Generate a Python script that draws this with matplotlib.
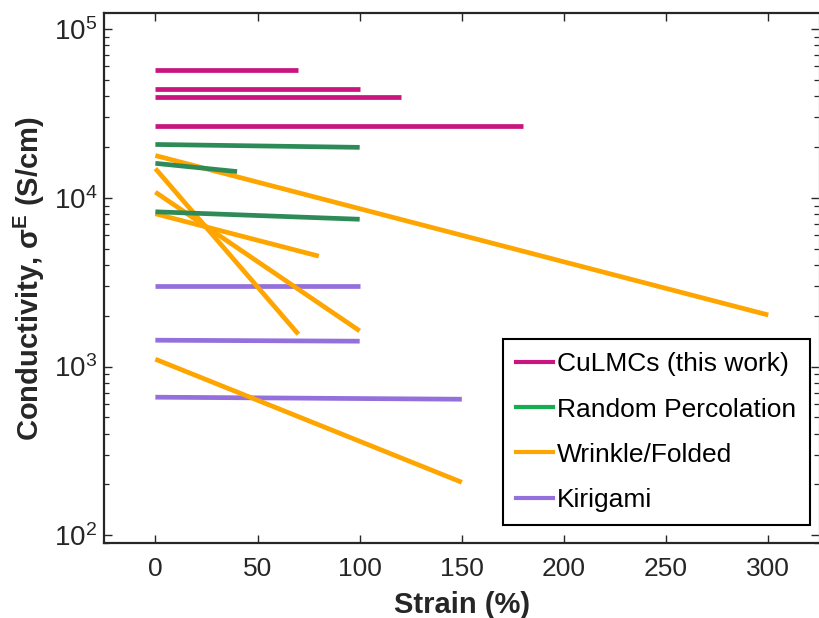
import matplotlib
matplotlib.use("Agg")
import matplotlib.pyplot as plt
from matplotlib.lines import Line2D
from matplotlib.ticker import LogLocator, NullFormatter, FixedLocator

plt.rcParams['font.family'] = ['Liberation Sans', 'DejaVu Sans']
plt.rcParams['mathtext.fontset'] = 'custom'
plt.rcParams['mathtext.rm'] = 'Liberation Sans'
plt.rcParams['mathtext.it'] = 'Liberation Sans:italic'
plt.rcParams['mathtext.bf'] = 'Liberation Sans:bold'

# ---- data: each segment = (strain start, strain end, conductivity start, conductivity end)
culmc_x0 = [0, 0, 0, 0]
culmc_x1 = [70, 100, 120, 180]
culmc_y0 = [57000, 44400, 39400, 26700]
culmc_y1 = [57000, 44400, 39400, 26700]

perc_x0 = [0, 0, 0]
perc_x1 = [100, 40, 100]
perc_y0 = [20700, 16000, 8260]
perc_y1 = [19900, 14300, 7460]

wrinkle_x0 = [0, 0, 0, 0, 0]
wrinkle_x1 = [300, 70, 100, 80, 150]
wrinkle_y0 = [17800, 14900, 10800, 8040, 1105]
wrinkle_y1 = [2020, 1554, 1626, 4510, 206]

kiri_x0 = [0, 0, 0]
kiri_x1 = [100, 100, 150]
kiri_y0 = [3000, 1432, 658]
kiri_y1 = [3000, 1413, 640]

labels = ["CuLMCs (this work)", "Random Percolation", "Wrinkle/Folded", "Kirigami"]
x_ticks = [0, 50, 100, 150, 200, 250, 300]

c_cu = '#C8157F'
c_pe = '#2E8B57'
c_pe_leg = '#14AE4E'
c_wr = '#FFA500'
c_ki = '#9370DB'

fig = plt.figure(figsize=(8.2, 6.18), dpi=100)
ax = fig.add_axes([0.1272, 0.1214, 0.8720, 0.8571])

lw = 3.4
def draw(x0, x1, y0, y1, color, z):
    for a, b, c, d in zip(x0, x1, y0, y1):
        ax.plot([a, b], [c, d], color=color, lw=lw, solid_capstyle='butt', zorder=z)

draw(culmc_x0, culmc_x1, culmc_y0, culmc_y1, c_cu, 3)
draw(wrinkle_x0, wrinkle_x1, wrinkle_y0, wrinkle_y1, c_wr, 3)
draw(perc_x0, perc_x1, perc_y0, perc_y1, c_pe, 3)
draw(kiri_x0, kiri_x1, kiri_y0, kiri_y1, c_ki, 2)

ax.set_yscale('log')
ax.set_xlim(-25, 325)
ax.set_ylim(90, 1.24e5)
ax.xaxis.set_major_locator(FixedLocator(x_ticks))
ax.set_xticklabels([str(t) for t in x_ticks])
ax.yaxis.set_major_locator(LogLocator(base=10, numticks=10))
ax.yaxis.set_minor_locator(LogLocator(base=10, subs=range(2, 10), numticks=20))
ax.yaxis.set_minor_formatter(NullFormatter())

dark = '#262626'
for s in ['left', 'bottom', 'top']:
    ax.spines[s].set_color(dark)
    ax.spines[s].set_linewidth(1.6)
ax.spines['right'].set_color('#c8c8c8')
ax.spines['right'].set_linewidth(1.0)

ax.tick_params(axis='both', which='major', direction='in', length=5.5, width=1.0,
               color=dark, labelcolor=dark, labelsize=19, top=True, right=True)
ax.tick_params(axis='both', which='minor', direction='in', length=3.5, width=0.9,
               color=dark, top=False, right=True)
ax.tick_params(axis='x', which='major', pad=10)
ax.tick_params(axis='y', which='major', pad=5, labelsize=20)

ax.set_xlabel('Strain (%)', fontsize=21, fontweight='bold', color=dark, labelpad=7)
ax.set_ylabel('Conductivity, σ$^{\\mathbf{E}}$ (S/cm)', fontsize=21, fontweight='bold',
              color=dark, labelpad=5)

handles = [Line2D([], [], color=c, lw=3.0) for c in [c_cu, c_pe_leg, c_wr, c_ki]]
leg = ax.legend(handles, labels, loc='lower right', bbox_to_anchor=(0.9865, 0.034),
                fontsize=19, frameon=True, fancybox=False, framealpha=1,
                edgecolor='black', handlelength=1.4, handletextpad=0.15,
                labelspacing=0.8, borderpad=0.5, borderaxespad=0)
leg.get_frame().set_linewidth(1.5)
for t in leg.get_texts():
    t.set_color('black')

fig.savefig('out.png', dpi=100)
